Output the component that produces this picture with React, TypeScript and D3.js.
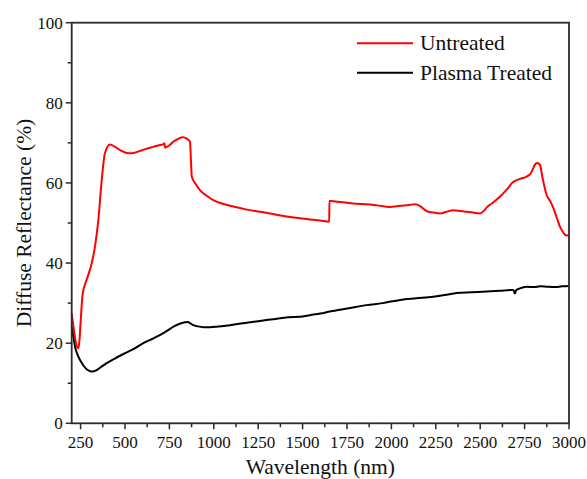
import * as d3 from "d3";

const untreatedNm = [200, 237, 262, 284, 313, 331, 350, 369, 387, 416, 444, 480, 519, 550, 585, 620, 659, 690, 716, 722, 726, 750, 772, 800, 825, 850, 866, 872, 876, 900, 922, 960, 997, 1050, 1110, 1180, 1260, 1340, 1410, 1485, 1542, 1600, 1650, 1651, 1658, 1700, 1760, 1800, 1861, 1920, 1992, 2050, 2100, 2133, 2160, 2185, 2208, 2240, 2274, 2310, 2349, 2390, 2424, 2460, 2499, 2520, 2537, 2575, 2612, 2640, 2660, 2677, 2700, 2730, 2762, 2785, 2799, 2812, 2822, 2837, 2850, 2874, 2895, 2912, 2930, 2949, 2965, 2978, 2990, 3000];
const untreatedVal = [27.5, 18.7, 32.4, 35.8, 40.0, 44.1, 50.7, 60.7, 67.4, 69.6, 69.0, 68.0, 67.4, 67.5, 68.0, 68.5, 69.0, 69.4, 69.7, 69.9, 68.8, 69.4, 70.3, 71.0, 71.4, 71.0, 70.3, 65.0, 61.6, 59.6, 58.2, 56.8, 55.7, 54.8, 54.1, 53.4, 52.8, 52.2, 51.6, 51.2, 50.9, 50.6, 50.3, 55.5, 55.5, 55.3, 55.0, 54.8, 54.7, 54.4, 54.0, 54.3, 54.5, 54.7, 54.3, 53.4, 52.8, 52.6, 52.4, 52.8, 53.2, 53.0, 52.8, 52.6, 52.4, 53.0, 53.9, 55.2, 56.6, 57.9, 58.9, 59.9, 60.6, 61.1, 61.6, 62.4, 63.7, 64.8, 65.0, 64.5, 61.5, 57.0, 55.4, 53.7, 51.5, 49.1, 47.8, 47.0, 46.9, 47.0];

const treatedNm = [200, 210, 219, 232, 247, 265, 284, 300, 313, 341, 370, 397, 440, 491, 550, 603, 660, 716, 745, 772, 805, 838, 855, 866, 885, 910, 941, 980, 1016, 1090, 1166, 1250, 1335, 1420, 1485, 1542, 1600, 1654, 1760, 1861, 1950, 2049, 2140, 2236, 2300, 2368, 2450, 2537, 2610, 2687, 2695, 2702, 2720, 2762, 2800, 2840, 2874, 2920, 2960, 3000];
const treatedVal = [24.1, 21.5, 19.1, 17.2, 15.8, 14.5, 13.5, 13.1, 12.9, 13.3, 14.2, 15.0, 16.1, 17.3, 18.6, 20.0, 21.2, 22.5, 23.3, 24.1, 24.8, 25.2, 25.3, 25.0, 24.5, 24.2, 24.0, 24.0, 24.1, 24.5, 25.0, 25.5, 26.0, 26.5, 26.6, 27.0, 27.4, 27.9, 28.7, 29.5, 30.0, 30.8, 31.2, 31.6, 32.0, 32.5, 32.7, 32.9, 33.1, 33.3, 32.4, 33.2, 33.6, 34.1, 34.0, 34.2, 34.1, 34.0, 34.2, 34.3];

const seriesNames = ["Untreated", "Plasma Treated"];
const seriesColors = ["#ff0000", "#000000"];
const xTicks = [250, 500, 750, 1000, 1250, 1500, 1750, 2000, 2250, 2500, 2750, 3000];
const yTicks = [0, 20, 40, 60, 80, 100];

const W = 587;
const H = 479;
const M = { left: 71.7, right: 18, top: 22.7, bottom: 55.7 };
const AXIS = "#2b2b2b";

// letter-spacing knocked the serif face out in this renderer, so widths come from size only
const txt = (size: number) => ({ fontFamily: '"Liberation Serif"', fontSize: size, fill: "#111" });

export default function App() {
  const x = d3.scaleLinear().domain([200, 3000]).range([M.left, W - M.right]);
  const y = d3.scaleLinear().domain([0, 100]).range([H - M.bottom, M.top]);

  const line = d3
    .line<[number, number]>()
    .x((d) => x(d[0]))
    .y((d) => y(d[1]))
    .curve(d3.curveMonotoneX);

  const paths = [
    line(d3.zip(untreatedNm, untreatedVal) as [number, number][]) ?? "",
    line(d3.zip(treatedNm, treatedVal) as [number, number][]) ?? "",
  ];

  const x0 = x(200);
  const x1 = x(3000);
  const yb = y(0);
  const yt = y(100);

  return (
    <svg width={W} height={H} style={{ position: "absolute", left: 0, top: 0, background: "#fff" }}>
      {/* curves, black under red */}
      {[1, 0].map((i) => (
        <path
          key={i}
          d={paths[i]}
          fill="none"
          stroke={seriesColors[i]}
          strokeWidth={2}
          strokeLinejoin="round"
        />
      ))}

      <rect x={x0} y={yt} width={x1 - x0} height={yb - yt} fill="none" stroke={AXIS} strokeWidth={1.8} />

      {/* x ticks */}
      {d3.range(250, 3001, 125).map((v) => (
        <line
          key={v}
          x1={x(v)}
          x2={x(v)}
          y1={yb}
          y2={yb + (xTicks.includes(v) ? 6 : 4)}
          stroke={AXIS}
          strokeWidth={1.5}
        />
      ))}
      {xTicks.map((v) => (
        <text key={v} x={x(v)} y={yb + 24.5} textAnchor="middle" style={txt(17)}>
          {v}
        </text>
      ))}

      {/* y ticks */}
      {d3.range(0, 101, 10).map((v) => (
        <line
          key={v}
          x1={x0}
          x2={x0 - (yTicks.includes(v) ? 6 : 4)}
          y1={y(v)}
          y2={y(v)}
          stroke={AXIS}
          strokeWidth={1.5}
        />
      ))}
      {yTicks.map((v) => (
        <text key={v} x={x0 - 9} y={y(v) + 5.8} textAnchor="end" style={txt(17)}>
          {v}
        </text>
      ))}

      {/* axis titles */}
      <text x={(x0 + x1) / 2} y={474} textAnchor="middle" style={txt(21.5)}>
        Wavelength (nm)
      </text>
      <text transform={`translate(31,${(yb + yt) / 2}) rotate(-90)`} textAnchor="middle" style={txt(21.5)}>
        Diffuse Reflectance (%)
      </text>

      {/* legend */}
      {seriesNames.map((name, i) => {
        const ly = 43.3 + i * 29.4;
        return (
          <g key={name}>
            <line x1={357} x2={413} y1={ly} y2={ly} stroke={seriesColors[i]} strokeWidth={2} />
            <text x={420} y={ly + 7} style={txt(21.5)}>
              {name}
            </text>
          </g>
        );
      })}
    </svg>
  );
}
